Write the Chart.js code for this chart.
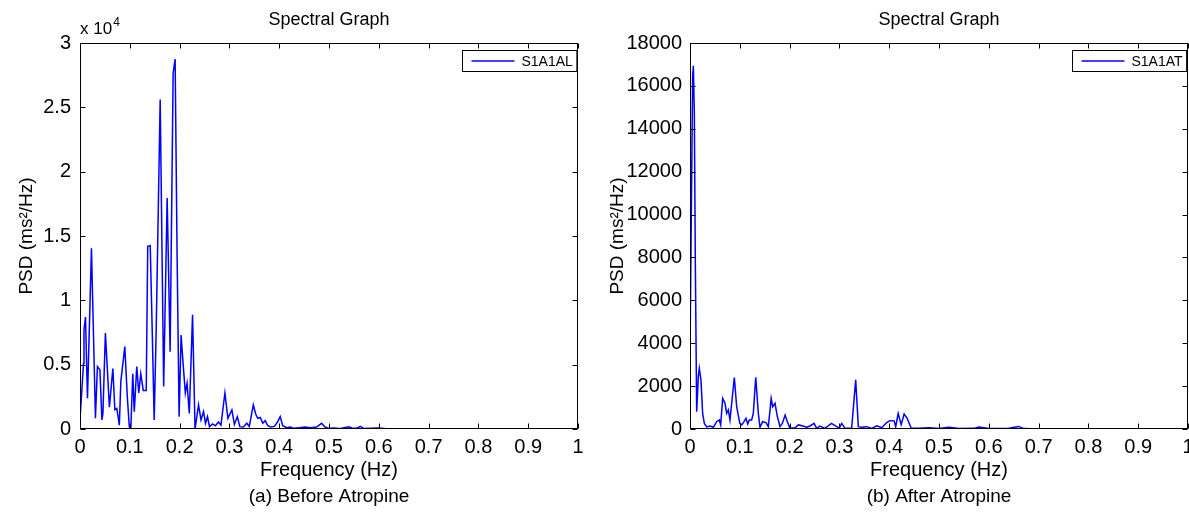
<!DOCTYPE html>
<html>
<head>
<meta charset="utf-8">
<title>Spectral Graph</title>
<script src="https://cdn.jsdelivr.net/npm/chart.js@4.4.0/dist/chart.umd.min.js"></script>
<style>
    html, body { margin: 0; padding: 0; background: #fff; overflow: hidden; }
    .panel { position: absolute; top: 0; }
</style>
</head>
<body>
<div class="panel" style="left:0"><canvas id="chartBefore" width="594" height="512"></canvas></div>
<div class="panel" style="left:594px"><canvas id="chartAfter" width="620" height="512"></canvas></div>
<script>
// (a) Before Atropine - frequency (Hz) and PSD (ms^2/Hz)
const freqBefore = [0.000, 0.007, 0.008, 0.011, 0.015, 0.023, 0.031, 0.035, 0.040, 0.044, 0.046, 0.051, 0.059, 0.066,
    0.070, 0.074, 0.079, 0.082, 0.090, 0.095, 0.099, 0.102, 0.106, 0.109, 0.114, 0.118, 0.122, 0.127, 0.133, 0.136,
    0.141, 0.145, 0.149, 0.153, 0.161, 0.168, 0.175, 0.181, 0.187, 0.191, 0.195, 0.199, 0.203, 0.207, 0.2115, 0.215,
    0.2195, 0.226, 0.231, 0.238, 0.243, 0.248, 0.252, 0.256, 0.260, 0.266, 0.272, 0.278, 0.283, 0.291, 0.297, 0.305,
    0.310, 0.316, 0.321, 0.328, 0.335, 0.340, 0.348, 0.353, 0.357, 0.362, 0.367, 0.372, 0.377, 0.383, 0.390, 0.396,
    0.402, 0.407, 0.415, 0.422, 0.430, 0.440, 0.452, 0.462, 0.475, 0.485, 0.492, 0.500, 0.510, 0.520, 0.530, 0.540,
    0.548, 0.556, 0.563, 0.570, 0.585, 0.600, 0.615, 0.640, 0.700, 0.800, 0.900, 1.000];
const psdBefore = [700, 5100, 7700, 8700, 2400, 14050, 830, 4850, 4600, 700, 1200, 7450, 1700, 4700,
    1500, 1600, 300, 3700, 6400, 2500, 180, 0, 4300, 1350, 4850, 2800, 4300, 3000, 3000, 14200,
    14250, 7700, 700, 7700, 25600, 3300, 17950, 6000, 27650, 28750, 13400, 960, 7300, 5100, 2800, 3550,
    1200, 8870, 0, 1870, 700, 1350, 440, 960, 180, 400, 250, 550, 300, 2800, 830, 1480,
    350, 960, 180, 150, 450, 200, 1870, 1150, 830, 900, 450, 650, 250, 150, 200, 500,
    960, 250, 100, 150, 50, 100, 150, 100, 150, 440, 150, 50, 80, 30, 100, 180,
    50, 60, 200, 30, 50, 80, 20, 10, 0, 0, 0, 0];

// (b) After Atropine
const freqAfter = [0.000, 0.003, 0.0053, 0.0067, 0.0087, 0.0107, 0.0134, 0.0167, 0.0187, 0.022, 0.0254, 0.0288,
    0.0335, 0.040, 0.047, 0.0535, 0.059, 0.0616, 0.0656, 0.0703, 0.0736, 0.077, 0.0803, 0.0837, 0.089, 0.0937,
    0.100, 0.104, 0.1084, 0.1124, 0.1158, 0.1191, 0.1238, 0.1271, 0.132, 0.1372, 0.1405, 0.1459, 0.1526, 0.1573,
    0.163, 0.166, 0.1707, 0.1754, 0.1807, 0.1854, 0.191, 0.1955, 0.2008, 0.211, 0.2175, 0.227, 0.234, 0.241,
    0.249, 0.2544, 0.261, 0.271, 0.284, 0.2945, 0.300, 0.3046, 0.3112, 0.3246, 0.3327, 0.338, 0.3447, 0.3547,
    0.365, 0.375, 0.385, 0.395, 0.4016, 0.410, 0.413, 0.418, 0.424, 0.430, 0.436, 0.444, 0.460, 0.480, 0.500,
    0.520, 0.540, 0.570, 0.580, 0.600, 0.640, 0.660, 0.670, 0.700, 0.800, 0.900, 1.000];
const psdAfter = [3500, 10850, 16440, 16940, 14730, 7730, 810, 2440, 2830, 2290, 730, 260,
    100, 140, 80, 340, 420, 190, 1430, 1200, 730, 890, 420, 1200, 2400, 1040,
    260, 190, 340, 500, 230, 420, 420, 730, 2410, 730, 80, 340, 300, 110,
    1430, 1040, 1200, 580, 110, 260, 650, 340, 30, 60, 190, 140, 80, 140,
    260, 30, 140, 30, 260, 110, 50, 260, 30, 30, 2290, 110, 80, 110,
    30, 150, 60, 300, 390, 380, 100, 730, 200, 700, 500, 50, 30, 60, 20,
    80, 20, 30, 90, 20, 30, 120, 20, 0, 0, 0, 0];

const xTicks = [0, 0.1, 0.2, 0.3, 0.4, 0.5, 0.6, 0.7, 0.8, 0.9, 1];
const yTicksBefore = [0, 5000, 10000, 15000, 20000, 25000, 30000];
const yLabelsBefore = ['0', '0.5', '1', '1.5', '2', '2.5', '3'];
const yTicksAfter = [0, 2000, 4000, 6000, 8000, 10000, 12000, 14000, 16000, 18000];

const FONT = '"Liberation Sans", Arial, Helvetica, sans-serif';

// box around the axes, inward ticks, legend, caption, exponent
const matlabFrame = {
    id: 'matlabFrame',
    afterDraw(chart, args, opts) {
        const ctx = chart.ctx;
        const a = chart.chartArea;
        const xs = chart.scales.x;
        const ys = chart.scales.y;
        const L = Math.round(a.left) + 0.5;
        const R = Math.round(a.right) - 0.5;
        const T = Math.round(a.top) + 0.5;
        const B = Math.round(a.bottom) - 0.5;
        const tick = 5;

        ctx.save();
        ctx.strokeStyle = '#000';
        ctx.lineWidth = 1;
        ctx.strokeRect(L, T, R - L, B - T);

        ctx.beginPath();
        xs.ticks.forEach(t => {
            const px = Math.round(xs.getPixelForValue(t.value)) + 0.5;
            ctx.moveTo(px, B); ctx.lineTo(px, B - tick);
            ctx.moveTo(px, T); ctx.lineTo(px, T + tick);
        });
        ys.ticks.forEach(t => {
            const py = Math.round(ys.getPixelForValue(t.value)) + 0.5;
            ctx.moveTo(L, py); ctx.lineTo(L + tick, py);
            ctx.moveTo(R, py); ctx.lineTo(R - tick, py);
        });
        ctx.stroke();

        // legend inside top right
        ctx.font = '14px ' + FONT;
        const textW = ctx.measureText(opts.legend).width;
        const boxH = 21;
        const boxW = 9 + 43 + 7 + textW + 4;
        const bx = Math.round(a.right - 2 - boxW) + 0.5;
        const by = Math.round(a.top + 7) + 0.5;
        ctx.fillStyle = '#fff';
        ctx.fillRect(bx, by, boxW, boxH);
        ctx.strokeRect(bx, by, boxW, boxH);
        ctx.beginPath();
        ctx.strokeStyle = '#0000ff';
        ctx.lineWidth = 1.3;
        ctx.moveTo(bx + 9, by + boxH / 2);
        ctx.lineTo(bx + 52, by + boxH / 2);
        ctx.stroke();
        ctx.fillStyle = '#000';
        ctx.textBaseline = 'middle';
        ctx.textAlign = 'left';
        ctx.fillText(opts.legend, bx + 59, by + boxH / 2 + 1);

        // caption under the axis title
        ctx.font = '19px ' + FONT;
        ctx.textAlign = 'center';
        ctx.fillText(opts.caption, (a.left + a.right) / 2, 497);

        // exponent label above y axis
        if (opts.exponent) {
            ctx.textAlign = 'left';
            ctx.textBaseline = 'alphabetic';
            ctx.font = '17px ' + FONT;
            ctx.fillText('x 10', a.left, 34);
            const w = ctx.measureText('x 10').width;
            ctx.font = '12px ' + FONT;
            ctx.fillText(opts.exponent, a.left + w + 1, 26);
        }
        ctx.restore();
    }
};

function makeChart(canvasId, freq, psd, cfg) {
    const ctx = document.getElementById(canvasId).getContext('2d');
    return new Chart(ctx, {
        type: 'line',
        data: {
            datasets: [{
                label: cfg.legend,
                data: freq.map((f, i) => ({ x: f, y: psd[i] })),
                borderColor: '#0000ff',
                backgroundColor: '#0000ff',
                borderWidth: 1.5,
                pointRadius: 0,
                tension: 0,
                fill: false
            }]
        },
        options: {
            responsive: false,
            animation: false,
            layout: { padding: { left: 0, right: cfg.rightPad, top: 0, bottom: 0 } },
            scales: {
                x: {
                    type: 'linear',
                    min: 0,
                    max: 1,
                    grid: { display: false, drawTicks: false, tickLength: 0 },
                    border: { display: false },
                    afterBuildTicks: s => { s.ticks = xTicks.map(v => ({ value: v })); },
                    afterFit: s => { s.height = 83; },
                    ticks: {
                        color: '#000',
                        font: { family: FONT, size: 20 },
                        padding: 6,
                        maxRotation: 0,
                        callback: v => String(Number(v.toFixed(1)))
                    },
                    title: {
                        display: true,
                        text: 'Frequency (Hz)',
                        color: '#000',
                        font: { family: FONT, size: 20 },
                        padding: { top: 0, bottom: 30 }
                    }
                },
                y: {
                    type: 'linear',
                    min: 0,
                    max: cfg.yMax,
                    grid: { display: false, drawTicks: false, tickLength: 0 },
                    border: { display: false },
                    afterBuildTicks: s => { s.ticks = cfg.yTicks.map(v => ({ value: v })); },
                    afterFit: s => { s.width = cfg.yWidth; },
                    ticks: {
                        color: '#000',
                        font: { family: FONT, size: 20 },
                        padding: cfg.yTickPad,
                        callback: (v, i) => cfg.yLabels ? cfg.yLabels[i] : String(v)
                    },
                    title: {
                        display: true,
                        text: 'PSD (ms²/Hz)',
                        color: '#000',
                        font: { family: FONT, size: 19 },
                        padding: { top: cfg.yTitlePad, bottom: 0 }
                    }
                }
            },
            plugins: {
                legend: { display: false },
                tooltip: { enabled: false },
                title: {
                    display: true,
                    text: 'Spectral Graph',
                    fullSize: false,
                    color: '#000',
                    font: { family: FONT, size: 18, weight: 'normal' },
                    padding: { top: 9, bottom: 12.4 }
                },
                matlabFrame: {
                    legend: cfg.legend,
                    caption: cfg.caption,
                    exponent: cfg.exponent
                }
            }
        },
        plugins: [matlabFrame]
    });
}

makeChart('chartBefore', freqBefore, psdBefore, {
    legend: 'S1A1AL',
    caption: '(a) Before Atropine',
    exponent: '4',
    yMax: 30000,
    yTicks: yTicksBefore,
    yLabels: yLabelsBefore,
    yWidth: 80,
    yTickPad: 9,
    yTitlePad: 15.6,
    rightPad: 16
});

makeChart('chartAfter', freqAfter, psdAfter, {
    legend: 'S1A1AT',
    caption: '(b) After Atropine',
    exponent: null,
    yMax: 18000,
    yTicks: yTicksAfter,
    yLabels: null,
    yWidth: 96,
    yTickPad: 8,
    yTitlePad: 12.6,
    rightPad: 26
});
</script>
</body>
</html>
